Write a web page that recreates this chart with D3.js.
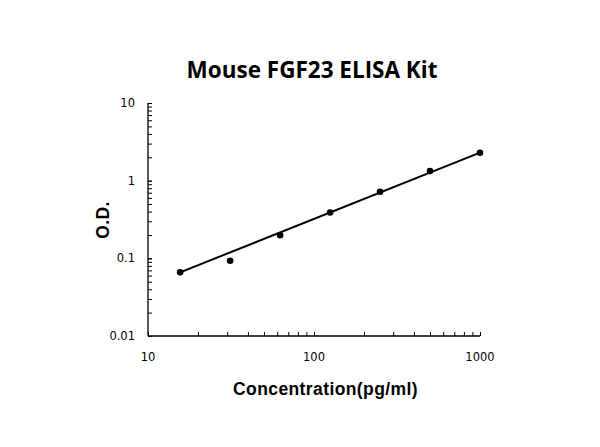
<!DOCTYPE html>
<html><head><meta charset="utf-8">
<script src="https://cdn.jsdelivr.net/npm/d3@7/dist/d3.min.js"></script>
<style>body{margin:0;background:#fff}svg{display:block}</style>
</head><body>
<svg id="c" width="600" height="447"></svg>
<script>
const concentration = [15.625, 31.25, 62.5, 125, 250, 500, 1000];
const od = [0.066, 0.093, 0.198, 0.39, 0.72, 1.33, 2.28];
const fitX = [15.625, 1000];
const fitY = [0.066, 2.3];
const xTicks = [10, 100, 1000];
const yTicks = [0.01, 0.1, 1, 10];
const yTickLabels = ["0.01", "0.1", "1", "10"];

const svg = d3.select("#c");
const pLeft = 148, pRight = 480, pTop = 103, pBottom = 336;
const x = d3.scaleLog().domain([10, 1000]).range([pLeft, pRight]);
const y = d3.scaleLog().domain([0.01, 10]).range([pBottom, pTop]);

function minors(lo, hi) {
  const out = [];
  for (let d = lo; d < hi * 0.999; d *= 10) for (let k = 1; k <= 10; k++) out.push(d * k);
  return out;
}
const labelFont = "'DejaVu Sans', Verdana, sans-serif";

// x axis
const gx = svg.append("g").attr("transform", `translate(0,${pBottom})`);
gx.call(d3.axisTop(x).tickValues(minors(10, 1000)).tickSize(4).tickFormat(""));
gx.select(".domain").attr("d", `M${pLeft},0H${pRight}`).attr("stroke", "#000").attr("stroke-width", 1.3);
gx.selectAll(".tick line").attr("stroke", "#000");
svg.append("g").selectAll("text").data(xTicks).join("text")
  .attr("x", d => x(d)).attr("y", 361).attr("text-anchor", "middle")
  .attr("font-family", labelFont).attr("font-size", 11.5).text(d => d);

// y axis
const gy = svg.append("g").attr("transform", `translate(${pLeft},0)`);
gy.call(d3.axisRight(y).tickValues(minors(0.01, 10)).tickSize(4).tickFormat(""));
gy.select(".domain").attr("d", `M0,${pTop}V${pBottom}`).attr("stroke", "#000").attr("stroke-width", 1.3);
gy.selectAll(".tick line").attr("stroke", "#000");
svg.append("g").selectAll("text").data(yTicks).join("text")
  .attr("x", 135).attr("y", d => y(d) + 4).attr("text-anchor", "end")
  .attr("font-family", labelFont).attr("font-size", 11.5).text((d, i) => yTickLabels[i]);

// fit line
svg.append("path").datum(fitX.map((v, i) => [v, fitY[i]]))
  .attr("d", d3.line().x(d => x(d[0])).y(d => y(d[1])))
  .attr("fill", "none").attr("stroke", "#000").attr("stroke-width", 2);

// points
svg.append("g").selectAll("circle").data(concentration).join("circle")
  .attr("cx", d => x(d)).attr("cy", (d, i) => y(od[i])).attr("r", 3.3).attr("fill", "#000");

// title & labels
svg.append("text").attr("x", 312).attr("y", 78).attr("text-anchor", "middle")
  .attr("font-family", "'Open Sans', 'Liberation Sans', sans-serif").attr("font-weight", "bold")
  .attr("font-size", 22.5).text("Mouse FGF23 ELISA Kit");
svg.append("text").attr("x", 325.5).attr("y", 395).attr("text-anchor", "middle")
  .attr("font-family", "'Liberation Sans', Arial, sans-serif").attr("font-weight", "bold")
  .attr("font-size", 17.5).attr("letter-spacing", 0.4).text("Concentration(pg/ml)");
svg.append("text").attr("transform", "translate(109,220) rotate(-90)").attr("text-anchor", "middle")
  .attr("font-family", "'Liberation Sans', Arial, sans-serif").attr("font-weight", "bold")
  .attr("font-size", 17.5).attr("letter-spacing", 0.4).text("O.D.");
</script>
</body></html>
